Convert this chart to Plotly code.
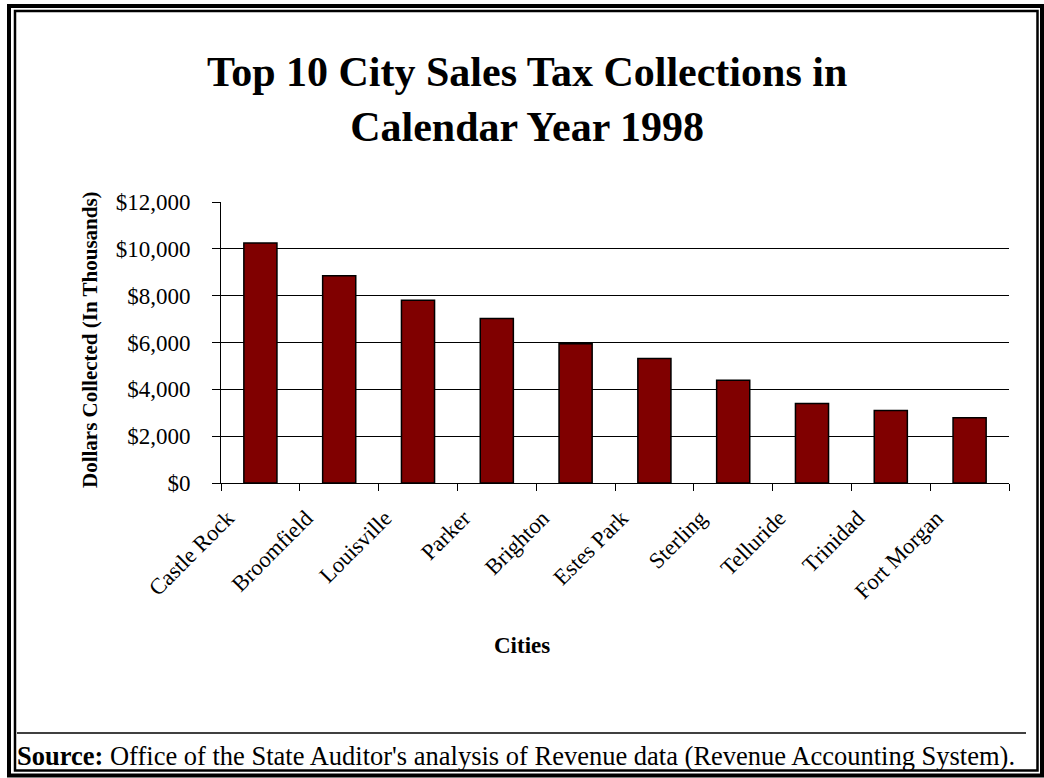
import plotly.graph_objects as go

cities = ["Castle Rock", "Broomfield", "Louisville", "Parker", "Brighton",
          "Estes Park", "Sterling", "Telluride", "Trinidad", "Fort Morgan"]
collections = [10250, 8850, 7800, 7020, 5950, 5320, 4390, 3400, 3100, 2790]
y_ticks = [0, 2000, 4000, 6000, 8000, 10000, 12000]
y_tick_labels = ["$0", "$2,000", "$4,000", "$6,000", "$8,000", "$10,000", "$12,000"]

title_lines = ["Top 10 City Sales Tax Collections in", "Calendar Year 1998"]
x_title = "Cities"
y_title = "Dollars Collected (In Thousands)"
source_text = "<b>Source:</b> Office of the State Auditor's analysis of Revenue data (Revenue Accounting System)."

W, H = 1044, 778
FONT = "Times New Roman, Liberation Serif, serif"

fig = go.Figure(go.Bar(
    x=cities, y=collections,
    marker=dict(color="#800000", line=dict(color="black", width=1.5)),
    width=0.42,
))

fig.update_layout(
    template="none",
    width=W, height=H, autosize=False,
    margin=dict(l=0, r=0, t=0, b=0, pad=0, autoexpand=False),
    paper_bgcolor="white", plot_bgcolor="white",
    showlegend=False,
    font=dict(family=FONT, color="black"),
    xaxis=dict(
        domain=[221 / W, 1009 / W], automargin=False,
        showline=True, linecolor="black", linewidth=1,
        ticks="outside", tickson="boundaries", ticklen=7, tickcolor="black",
        tickangle=-45, tickfont=dict(size=22.5, family=FONT),
        ticklabelshift=-33, ticklabelstandoff=12,
        showgrid=False,
    ),
    yaxis=dict(
        domain=[1 - 483 / H, 1 - 202 / H], automargin=False,
        range=[0, 12000],
        tickvals=y_ticks, ticktext=y_tick_labels,
        showline=True, linecolor="black", linewidth=1,
        ticks="outside", ticklen=8, tickcolor="black",
        tickfont=dict(size=23, family=FONT),
        ticklabelstandoff=17,
        showgrid=True, gridcolor="black", gridwidth=1,
        zeroline=False,
    ),
)

annotations = [
    dict(text="<b>" + title_lines[0] + "<br>" + title_lines[1] + "</b>",
         x=527 / W, y=1 - 100 / H, xref="paper", yref="paper",
         xanchor="center", yanchor="middle", showarrow=False,
         font=dict(size=42, family=FONT), align="center"),
    dict(text="<b>" + x_title + "</b>", x=522 / W, y=1 - 645 / H,
         xref="paper", yref="paper", xanchor="center", yanchor="middle",
         showarrow=False, font=dict(size=23, family=FONT)),
    dict(text="<b>" + y_title + "</b>", x=90 / W, y=1 - 340 / H,
         xref="paper", yref="paper", xanchor="center", yanchor="middle",
         showarrow=False, textangle=-90, font=dict(size=21, family=FONT)),
    dict(text=source_text, x=15 / W, y=1 - 756 / H,
         xref="paper", yref="paper", xanchor="left", yanchor="middle",
         showarrow=False, font=dict(size=26.5, family=FONT)),
]
fig.update_layout(annotations=annotations)

shapes = [
    dict(type="rect", xref="paper", yref="paper",
         x0=9 / W, x1=1042 / W, y0=1 - 775.5 / H, y1=1 - 6 / H,
         line=dict(color="black", width=4)),
    dict(type="rect", xref="paper", yref="paper",
         x0=15 / W, x1=1037.5 / W, y0=1 - 770.5 / H, y1=1 - 11 / H,
         line=dict(color="black", width=2.5)),
    dict(type="line", xref="paper", yref="paper",
         x0=17 / W, x1=1026 / W, y0=1 - 733 / H, y1=1 - 733 / H,
         line=dict(color="black", width=1.5)),
]
fig.update_layout(shapes=shapes)

fig.write_html("out.html")
